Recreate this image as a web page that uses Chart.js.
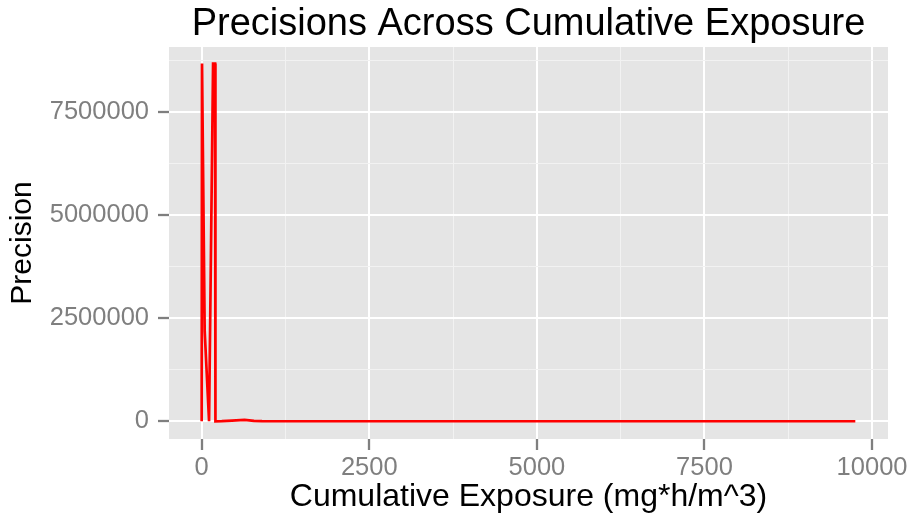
<!DOCTYPE html>
<html lang="en">
<head>
    <meta charset="UTF-8">
    <title>Precisions Across Cumulative Exposure</title>
    <script src="https://cdn.jsdelivr.net/npm/chart.js"></script>
    <style>
        body { margin: 0; background: #ffffff; }
        #wrap { width: 912px; height: 517px; }
    </style>
</head>
<body>
<div id="wrap">
    <canvas id="precChart" width="912" height="517"></canvas>
</div>

<script>
    // valeurs
    const exposure = [0, 5, 45, 110, 170, 200, 205, 300, 450, 640, 780, 900, 1500, 2500, 4000, 5500, 7000, 8500, 9750];
    const precision = [0, 8680000, 2180000, 0, 8680000, 8680000, 0, 3000, 15000, 35000, 10000, 2000, 500, 300, 200, 150, 100, 80, 60];

    const xMajor = [0, 2500, 5000, 7500, 10000];
    const xMinor = [1250, 3750, 6250, 8750];
    const yMajor = [0, 2500000, 5000000, 7500000];
    const yMinor = [1250000, 3750000, 6250000, 8750000];

    const fontName = "'Liberation Sans', Arial, sans-serif";
    const points = exposure.map((x, i) => ({x: x, y: precision[i]}));

    function setTicks(major, minor) {
        return function (scale) {
            scale.ticks = major.concat(minor).sort((a, b) => a - b).map(v => ({value: v}));
        };
    }
    function isMajor(list, v) {
        return list.indexOf(v) !== -1;
    }

    const panelBg = {
        id: 'panelBg',
        beforeDraw(chart) {
            const a = chart.chartArea;
            const c = chart.ctx;
            c.save();
            c.fillStyle = '#e5e5e5';
            c.fillRect(a.left, a.top, a.right - a.left, a.bottom - a.top);
            c.restore();
        }
    };

    const topTitle = {
        id: 'topTitle',
        afterDraw(chart) {
            const a = chart.chartArea;
            const c = chart.ctx;
            c.save();
            c.fillStyle = '#000000';
            c.font = '38px ' + fontName;
            c.textAlign = 'center';
            c.textBaseline = 'middle';
            c.fillText('Precisions Across Cumulative Exposure', (a.left + a.right) / 2, 25);
            c.restore();
        }
    };

    new Chart(document.getElementById('precChart'), {
        type: 'line',
        data: {
            datasets: [{
                data: points,
                borderColor: '#ff0000',
                borderWidth: 2.7,
                pointRadius: 0,
                tension: 0,
                fill: false
            }]
        },
        options: {
            responsive: false,
            animation: false,
            layout: { padding: { top: 47, right: 24, left: 0, bottom: 0 } },
            plugins: { legend: { display: false }, tooltip: { enabled: false } },
            scales: {
                x: {
                    type: 'linear',
                    min: -487.5,
                    max: 10237.5,
                    afterBuildTicks: setTicks(xMajor, xMinor),
                    afterFit(scale) {
                        scale.height = 78;
                        scale.paddingLeft = 0;
                        scale.paddingRight = 0;
                    },
                    border: { display: false },
                    grid: {
                        color: ctx => isMajor(xMajor, ctx.tick.value) ? '#ffffff' : '#f2f2f2',
                        lineWidth: ctx => isMajor(xMajor, ctx.tick.value) ? 2 : 1,
                        tickColor: ctx => isMajor(xMajor, ctx.tick.value) ? '#7f7f7f' : 'rgba(0,0,0,0)',
                        tickWidth: 2.3,
                        tickLength: 11
                    },
                    ticks: {
                        autoSkip: false,
                        maxRotation: 0,
                        padding: 3,
                        color: '#7f7f7f',
                        font: { family: fontName, size: 25.5 },
                        callback: v => isMajor(xMajor, v) ? String(v) : ''
                    },
                    title: {
                        display: true,
                        text: 'Cumulative Exposure (mg*h/m^3)',
                        color: '#000000',
                        font: { family: fontName, size: 32 },
                        padding: { top: 0, bottom: 1 }
                    }
                },
                y: {
                    min: -430000,
                    max: 9080000,
                    afterBuildTicks: setTicks(yMajor, yMinor),
                    afterFit(scale) {
                        scale.width = 169;
                        scale.paddingTop = 0;
                        scale.paddingBottom = 0;
                    },
                    border: { display: false },
                    grid: {
                        color: ctx => isMajor(yMajor, ctx.tick.value) ? '#ffffff' : '#f2f2f2',
                        lineWidth: ctx => isMajor(yMajor, ctx.tick.value) ? 2 : 1,
                        tickColor: ctx => isMajor(yMajor, ctx.tick.value) ? '#7f7f7f' : 'rgba(0,0,0,0)',
                        tickWidth: 2.3,
                        tickLength: 11
                    },
                    ticks: {
                        autoSkip: false,
                        padding: 9,
                        color: '#7f7f7f',
                        font: { family: fontName, size: 25.5 },
                        callback: v => isMajor(yMajor, v) ? String(v) : ''
                    },
                    title: {
                        display: true,
                        text: 'Precision',
                        color: '#000000',
                        font: { family: fontName, size: 30 },
                        padding: { top: 5, bottom: 0 }
                    }
                }
            }
        },
        plugins: [panelBg, topTitle]
    });
</script>
</body>
</html>
